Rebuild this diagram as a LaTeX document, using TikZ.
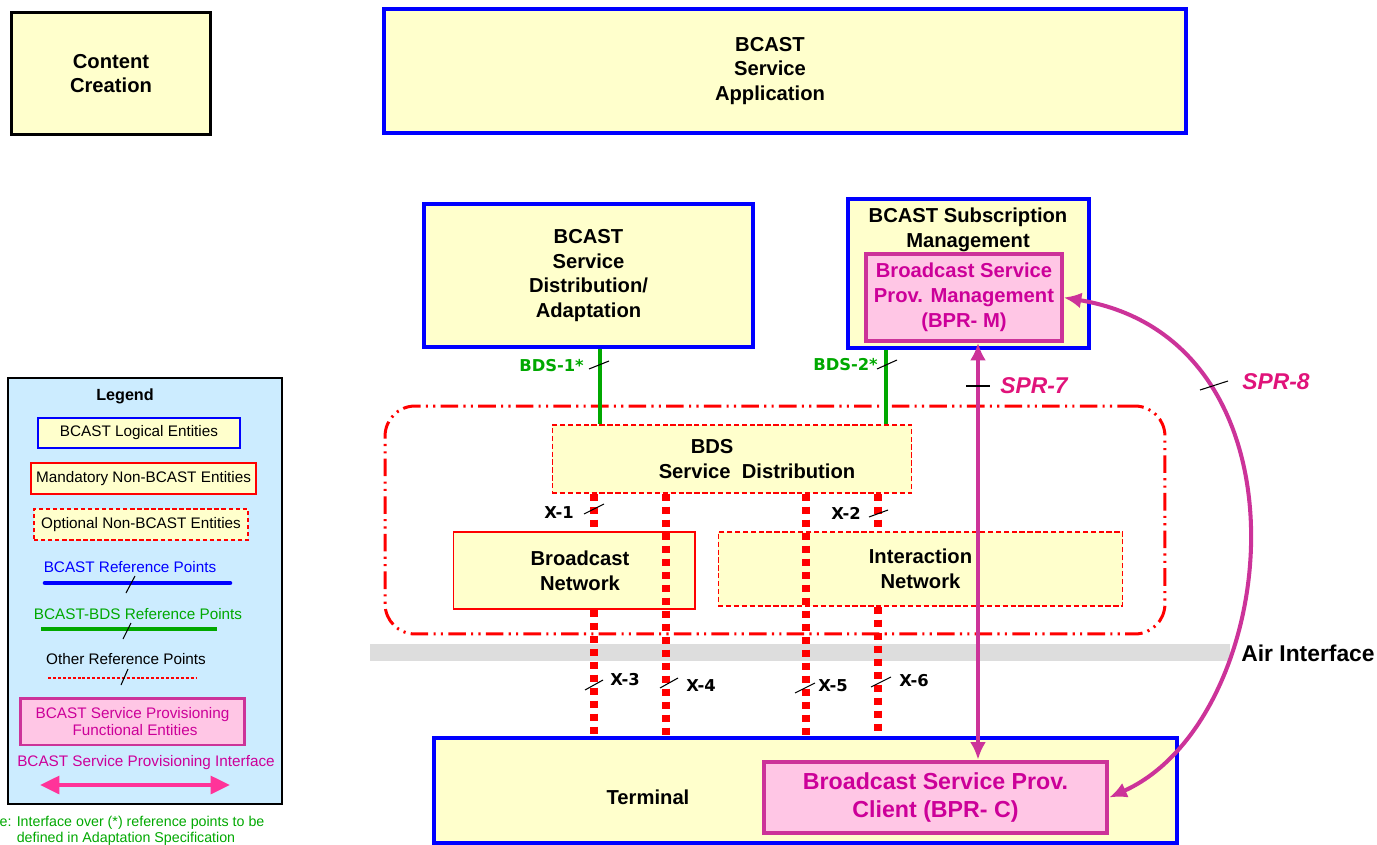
\documentclass[tikz,border=0pt]{standalone}
\usepackage{fontspec}
\setmainfont{Liberation Sans}
\newfontfamily\dejavu{DejaVu Sans}
\usetikzlibrary{arrows.meta}

\definecolor{boxyellow}{HTML}{FFFFCC}
\definecolor{bcblue}{HTML}{0000FF}
\definecolor{provmag}{HTML}{CC3399}
\definecolor{provpink}{HTML}{FFC6E5}
\definecolor{provtext}{HTML}{CC0099}
\definecolor{sprtext}{HTML}{E0137A}
\definecolor{bdsgreen}{HTML}{00A800}
\definecolor{legendblue}{HTML}{CCECFF}
\definecolor{legendpink}{HTML}{FF3399}
\definecolor{airgray}{HTML}{DDDDDD}

\newcommand\diagfont{\fontsize{11.5}{14.1}\selectfont\bfseries}
\newcommand\legfont{\fontsize{8.7}{9.7}\selectfont}
\newcommand\reffont{\dejavu\bfseries\fontsize{9.3}{11}\selectfont}

\begin{document}
\begin{tikzpicture}[x=0.02cm, y=-0.02cm,
    entity/.style={draw=bcblue, line width=2.3pt, fill=boxyellow, inner sep=0pt, align=center, font=\diagfont},
    mandbox/.style={draw=red, line width=0.6pt, fill=boxyellow, inner sep=0pt, align=center, font=\diagfont},
    optbox/.style={mandbox, dash pattern=on 3pt off 1.5pt},
    provbox/.style={draw=provmag, line width=2pt, fill=provpink, inner sep=0pt, align=center, text=provtext, font=\diagfont},
    bdsregion/.style={draw=red, line width=1.7pt, rounded corners=0.6cm, dash pattern=on 10pt off 3pt on 1.2pt off 3pt on 1.2pt off 3pt},
    xline/.style={red, line width=4pt, dash pattern=on 4pt off 3.4pt},
    bdsline/.style={bdsgreen, line width=2.3pt},
    refmark/.style={black, line width=0.6pt},
    sprline/.style={provmag, line width=2.3pt, {Latex[length=10pt,width=9pt]}-{Latex[length=10pt,width=9pt]}},
    xlab/.style={font=\reffont},
    sprlab/.style={text=sprtext, font=\fontsize{13}{15}\selectfont\bfseries\itshape},
    legitem/.style={inner sep=0pt, align=center, font=\legfont}]
\useasboundingbox (0,0) rectangle (1377,845);

% air interface
\fill[airgray] (370,644) rectangle (1230,661);
\node at (1308,653) (air) {\fontsize{13}{15}\selectfont\bfseries Air Interface};

% BDS area
\node at (775,520) [bdsregion, minimum width=15.6cm, minimum height=4.56cm] (region) {};

% top entities
\node at (111,73.5) [draw, line width=1.7pt, fill=boxyellow, inner sep=0pt, minimum width=4cm, minimum height=2.46cm, align=center, font=\diagfont] (cc) {Content\\Creation};
\node at (785,71) [entity, minimum width=16.04cm, minimum height=2.48cm] (app) {};
\node at (770,71) [align=center, font=\diagfont] (apptext) {BCAST\\Service\\Application};
\node at (588.5,275.5) [entity, minimum width=6.58cm, minimum height=2.86cm] (dist) {BCAST\\Service\\Distribution/\\Adaptation};
\node at (968.5,273.5) [entity, minimum width=4.82cm, minimum height=2.98cm] (subs) {};
\node at (968,230) [align=center, font=\diagfont] (substext) {BCAST Subscription\\Management};
\node at (964,297.5) [provbox, minimum width=3.92cm, minimum height=1.74cm] (bprm) {Broadcast Service\\Prov. Management\\(BPR- M)};

% BDS entities
\node at (732,459) [optbox, minimum width=7.2cm, minimum height=1.36cm] (bds) {};
\node at (757,459) [align=left, font=\diagfont] (bdstext) {\hspace*{0.64cm}BDS\\Service~~Distribution};
\node at (574,570.5) [mandbox, minimum width=4.84cm, minimum height=1.54cm] (bcnet) {};
\node at (580,571) [align=center, font=\diagfont] (bcnettext) {Broadcast\\Network};
\node at (920.5,569) [optbox, minimum width=8.1cm, minimum height=1.48cm] (inet) {Interaction\\Network};

% terminal
\node at (805.5,790.5) [entity, minimum width=14.86cm, minimum height=2.1cm] (term) {};
\node at (648,797) [font=\diagfont] (termtext) {Terminal};
\node at (935.5,797.5) [provbox, line width=2.6pt, minimum width=6.86cm, minimum height=1.42cm, font=\fontsize{13.2}{15.6}\selectfont\bfseries] (bprc) {Broadcast Service Prov.\\Client (BPR- C)};

% reference points
\coordinate (cb1) at (600,0);
\coordinate (cb2) at (886,0);
\coordinate (cx1) at (594,0);
\coordinate (cx4) at (666,0);
\coordinate (cx5) at (806,0);
\coordinate (cx2) at (878,0);
\coordinate (cs7) at (978,0);

\draw[bdsline] (dist.south -| cb1) -- (bds.north -| cb1);
\draw[bdsline] (subs.south -| cb2) -- (bds.north -| cb2);
\draw[refmark] (589,369) -- (609,361);
\draw[refmark] (877,369) -- (897,360);
\node at (590,366) [anchor=east, text=bdsgreen, font=\reffont] (bds1) {BDS-1*};
\node at (884,365) [anchor=east, text=bdsgreen, font=\reffont] (bds2) {BDS-2*};

\draw[xline] (bds.south -| cx1) -- (bcnet.north -| cx1);
\draw[xline] (bcnet.south -| cx1) -- (term.north -| cx1);
\draw[xline] (bds.south -| cx4) -- (term.north -| cx4);
\draw[xline] (bds.south -| cx5) -- (term.north -| cx5);
\draw[xline] (bds.south -| cx2) -- (inet.north -| cx2);
\draw[xline] (inet.south -| cx2) -- (term.north -| cx2);

\draw[refmark] (584,514) -- (604,504);
\draw[refmark] (869,517) -- (888,510);
\draw[refmark] (585,690) -- (603,680);
\draw[refmark] (660,688) -- (678,678);
\draw[refmark] (795,693) -- (815,683);
\draw[refmark] (871,687) -- (891,677);
\node at (559,513) [xlab] (x1) {X-1};
\node at (846,513) [xlab] (x2) {X-2};
\node at (625,680) [xlab] (x3) {X-3};
\node at (701,686) [xlab] (x4) {X-4};
\node at (833,686) [xlab] (x5) {X-5};
\node at (914,681) [xlab] (x6) {X-6};

% provisioning interfaces
\draw[sprline] (bprm.south -| cs7) -- (bprc.north -| cs7);
\draw[refmark, line width=1.2pt] (966,386) -- (990,386);
\node at (1034,386) [sprlab] (spr7) {SPR-7};
\draw[sprline] (bprm.east) .. controls (1320,340) and (1282,720) .. (bprc.east);
\draw[refmark] (1200,390) -- (1228,381);
\node at (1276,382) [sprlab] (spr8) {SPR-8};

% legend
\node at (145,591) [draw, line width=1pt, fill=legendblue, minimum width=5.48cm, minimum height=8.52cm] (legend) {};
\node at (125,396) [font=\fontsize{9.2}{11}\selectfont\bfseries] (legtitle) {Legend};
\node at (139,433) [legitem, draw=bcblue, line width=1.4pt, fill=boxyellow, minimum width=4.04cm, minimum height=0.6cm] (leglog) {BCAST Logical Entities};
\node at (143.5,478.5) [legitem, draw=red, line width=0.6pt, fill=boxyellow, minimum width=4.5cm, minimum height=0.62cm] (legmand) {Mandatory Non-BCAST Entities};
\node at (141,524.5) [legitem, draw=red, line width=0.7pt, dash pattern=on 2.5pt off 1.5pt, fill=boxyellow, minimum width=4.28cm, minimum height=0.62cm] (legopt) {Optional Non-BCAST Entities};
\node at (130,567) [legitem, text=bcblue] (legbc) {BCAST Reference Points};
\draw[bcblue, line width=2.6pt, line cap=round] (45,583) -- (230,583);
\draw[refmark] (126,593) -- (135,576);
\node at (138,614) [legitem, text=bdsgreen] (legbds) {BCAST-BDS Reference Points};
\draw[bdsgreen, line width=1.8pt] (41,629) -- (217,629);
\draw[refmark] (123,639) -- (131,623);
\node at (126,659) [legitem] (legother) {Other Reference Points};
\draw[red, line width=1.7pt, dash pattern=on 1.7pt off 1.1pt] (48,678) -- (196,678);
\draw[refmark] (121,685) -- (128,669);
\node at (132.5,721.5) [legitem, draw=provmag, line width=1.7pt, fill=provpink, text=provtext, minimum width=4.5cm, minimum height=0.94cm] (legprov) {BCAST Service Provisioning\\\hspace*{0.1cm}Functional Entities};
\node at (146,763) [legitem, text=provtext] (legspr) {BCAST Service Provisioning Interface};
\draw[legendpink, line width=2.3pt, {Triangle[length=11pt,width=10pt]}-{Triangle[length=11pt,width=10pt]}] (40,785) -- (230,785);

% note
\node at (132,823) [inner sep=0pt, text=bdsgreen, font=\fontsize{8.1}{9}\selectfont] (note1) {e: Interface over (*) reference points to be};
\node at (126,839) [inner sep=0pt, text=bdsgreen, font=\fontsize{8.1}{9}\selectfont] (note2) {defined in Adaptation Specification};
\end{tikzpicture}
\end{document}
